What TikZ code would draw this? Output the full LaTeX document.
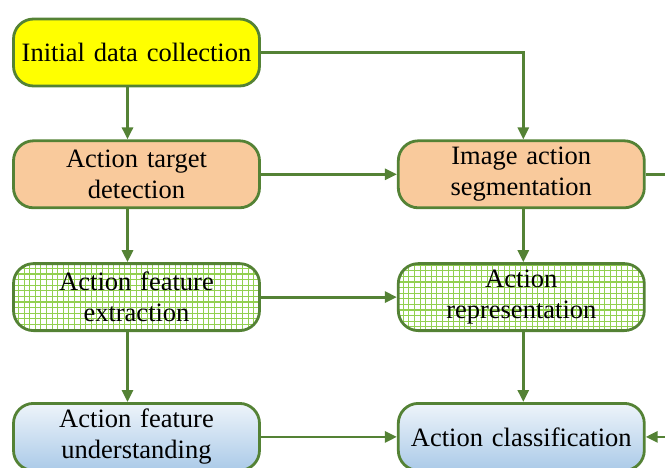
\documentclass[tikz,border=0pt]{standalone}
\usepackage{fontspec}
\setmainfont{Liberation Serif}
\usetikzlibrary{arrows.meta,positioning}
\definecolor{linegreen}{HTML}{548235}
\definecolor{gridgreen}{HTML}{92D050}
\definecolor{boxyellow}{HTML}{FFFF00}
\definecolor{boxorange}{HTML}{F9CA9C}
\definecolor{bluetop}{HTML}{EEF4FA}
\definecolor{bluebot}{HTML}{ABCAE8}
\tikzset{
  stepbox/.style={
    draw=linegreen,
    line width=2.8pt,
    rounded corners=20pt,
    minimum width=246pt,
    minimum height=67pt,
    text width=236pt,
    inner sep=0pt,
    align=center,
    font=\fontsize{26.5}{31}\selectfont
  },
  gridfill/.style={
    path picture={\draw[gridgreen, line width=1.1pt] (path picture bounding box.south west) grid[step=5.6pt] (path picture bounding box.north east);}
  },
  bluefill/.style={top color=bluetop, bottom color=bluebot},
  flow/.style={-{Triangle[length=12pt,width=11pt]}, line width=2.8pt, draw=linegreen},
  link/.style={line width=2.8pt, draw=linegreen}
}

\begin{document}
\begin{tikzpicture}[x=1pt, y=1pt]
  \clip (0,0) rectangle (665,-467);
  \node[stepbox, fill=boxyellow] (collect) at (136.5,-52.5) {Initial data collection};
  \node[stepbox, fill=boxorange, below=52pt of collect] (detect) {Action target\\detection};
  \node[stepbox, fill=boxorange, right=136pt of detect] (segment) {Image action\\segmentation};
  \node[stepbox, fill=white, gridfill, below=53pt of detect] (extract) {Action feature\\extraction};
  \node[stepbox, fill=white, gridfill, below=53pt of segment] (represent) {Action\\representation};
  \node[stepbox, bluefill, below=70pt of extract] (understand) {Action feature\\understanding};
  \node[stepbox, bluefill, below=70pt of represent] (classify) {Action classification};
  \coordinate (rim) at (672,0);

  \draw[flow] ([xshift=-9pt]collect.south) -- ([xshift=-9pt]detect.north);
  \draw[flow] (collect.east) -| ([xshift=2pt]segment.north);
  \draw[flow] (detect.east) -- (segment.west);
  \draw[link] (segment.east) -- (segment.east -| rim);
  \draw[flow] ([xshift=-9pt]detect.south) -- ([xshift=-9pt]extract.north);
  \draw[flow] ([xshift=2pt]segment.south) -- ([xshift=2pt]represent.north);
  \draw[flow] (extract.east) -- (represent.west);
  \draw[flow] ([xshift=-9pt]extract.south) -- ([xshift=-9pt]understand.north);
  \draw[flow] ([xshift=2pt]represent.south) -- ([xshift=2pt]classify.north);
  \draw[flow] (understand.east) -- (classify.west);
  \draw[flow] (classify.east -| rim) -- (classify.east);
\end{tikzpicture}
\end{document}
